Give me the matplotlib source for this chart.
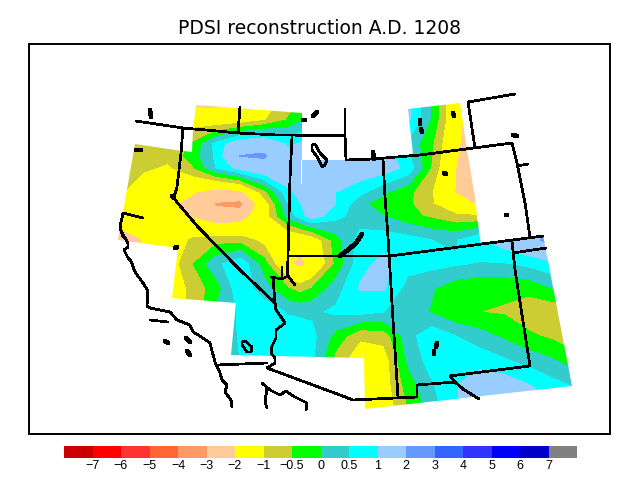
import numpy as np
import matplotlib
matplotlib.use("Agg")
import matplotlib.pyplot as plt
from matplotlib.colors import ListedColormap, BoundaryNorm
from matplotlib.patches import Polygon

title = "PDSI reconstruction A.D. 1208"
levels = [-7, -6, -5, -4, -3, -2, -1, -0.5, 0, 0.5, 1, 2, 3, 4, 5, 6, 7]
level_labels = ["−7", "−6", "−5", "−4", "−3", "−2", "−1", "−0.5", "0", "0.5", "1", "2", "3", "4", "5", "6", "7"]
colors = ["#CC0000", "#FF0000", "#FF3333", "#FF6633", "#FF9966", "#FFCC99", "#FFFF00", "#CCCC33", "#00FF00",
          "#33CCCC", "#00FFFF", "#99CCFF", "#6699FF", "#3366FF", "#3333FF", "#0000FF", "#0000CC", "#808080"]

grid_x = [116, 144, 168, 192, 216, 240, 264, 288, 300, 312, 336, 360, 384, 408, 432, 456, 480, 504, 528, 552, 576]
grid_y = [96, 120, 144, 156, 168, 192, 204, 216, 240, 264, 288, 312, 336, 360, 384, 412]
pdsi = [
    [-0.8, -0.8, -0.8, -2.6, -2.6, -1.6, -1.3, -0.9, -0.6, -0.3, 0.5, 1.2, 1.4, 1.2, 0.0, -1.7, -3, -3, -3, -3, -3],
    [-0.8, -0.8, -0.8, -1.3, -1.5, -1.4, -1.05, -0.45, -0.1, 0.3, 0.8, 1.5, 1.6, 1.1, -0.1, -1.7, -2.8, -3, -3, -3, -3],
    [-0.8, -0.75, -0.75, -0.45, 0.65, 1.5, 1.7, 0.9, 1.05, 1.2, 1.3, 1.3, 1.2, 0.4, -0.45, -1.8, -3, -3, -3, -3, -3],
    [-0.75, -0.8, -0.85, -0.3, 0.6, 2.02, 2.1, 1.3, 1.3, 1.3, 1.35, 1.35, 1.25, 0.6, -0.5, -1.9, -2.95, -3, -3, -3, -3],
    [-0.7, -0.9, -1.1, -0.6, 0.5, 1.2, 1.6, 1.6, 1.5, 1.4, 1.4, 1.4, 1.3, 0.85, -0.6, -2.0, -2.9, -3, -3, -3, -3],
    [-0.8, -1.5, -1.7, -1.9, -2.4, -2.2, -0.7, 0.85, 1.2, 1.5, 1.0, 0.65, 0.1, -0.35, -1, -2.05, -2.9, -3, -3, -3, -3],
    [-1.05, -1.6, -1.8, -2.3, -3.1, -3.3, -1.4, 0.5, 0.95, 1.4, 1.0, 0.15, -0.3, -0.4, -0.95, -1.6, -2.1, -2, -2, -2, -2],
    [-1.6, -1.6, -1.8, -2.1, -2.6, -2.5, -1.35, 0.15, 0.75, 1.3, 0.65, 0.25, 0, -0.35, -0.6, -0.9, -0.95, 1.5, 1.5, 1.5, 1.5],
    [-2.5, -2.0, -1.6, -0.9, -0.7, -0.7, -1.2, -1.8, -1.7, -1.5, -0.25, 0.7, 0.8, 0.7, 0.5, 0.45, 0.95, 1.3, 1.7, 2.3, 2.3],
    [-2, -1.7, -1.4, -0.55, 0.35, 0.9, -0.25, -1.9, -2.2, -1.8, -0.4, 0.85, 1.15, 0.7, 0.65, 0.55, 0.45, 0.45, 0.6, 0.85, 0.9],
    [-2, -1.7, -1.5, -0.85, -0.25, 0.85, 0.2, -0.5, -0.75, -0.5, 0.25, 1.05, 1.05, 0.3, 0.05, -0.3, -0.4, -0.4, -0.35, 0.0, 0.3],
    [-1.5, -1.5, -1.3, -0.9, 0, 0.6, 0.85, 0.45, 0.42, 0.4, 0.6, 0.65, 0.5, 0.25, -0.05, -0.45, -0.5, -0.55, -0.8, -0.9, -0.9],
    [-1.5, -1.5, -1.3, -0.9, 0.1, 0.55, 0.85, 0.85, 0.75, 0.65, -0.2, -0.9, -0.8, 0.3, 0.85, 0.5, 0.2, -0.1, -0.4, -0.6, -0.8],
    [-1.5, -1.5, -1.3, -0.9, 0.3, 0.5, 0.85, 0.8, 0.7, 0.6, -0.7, -1.4, -1.3, 0.1, 0.75, 0.85, 0.8, 0.55, 0.3, 0.05, -0.35],
    [-1.5, -1.5, -1.3, -0.9, 0.3, 0.5, 0.85, 0.8, 0.7, 0.6, -0.7, -1.6, -1.3, -0.25, 0.45, 0.97, 1.3, 1.3, 1.0, 0.65, 0.4],
    [-1.5, -1.5, -1.3, -0.9, 0.3, 0.5, 0.85, 0.8, 0.7, 0.6, -0.7, -1.7, -1.4, -0.55, 0.2, 0.95, 1.4, 1.7, 1.5, 1.3, 1.1],
]

domain = [(135, 144), (182, 151), (192, 152), (193, 130), (196, 105), (302, 113), (302, 160), (375, 160), (413, 154),
          (408, 109), (460, 103), (467, 150), (475, 197), (477, 217), (481, 245), (543, 235), (572, 386), (365, 409),
          (364, 358), (231, 355), (236, 303), (172, 298), (178, 248), (118, 240), (126, 195)]

gap_line = [(301, 160), (301, 183)]

borders = [
    [(136, 121), (183, 128), (217, 131), (238, 133), (277, 135), (345, 135.5)],
    [(240, 107), (238, 133)],
    [(183, 128), (181, 153), (177, 187), (174, 197), (176, 201), (198, 227), (240, 270), (275, 303)],
    [(292, 137), (290, 178), (288, 256), (287.5, 277)],
    [(288, 256), (390, 256), (543, 236)],
    [(345, 109), (345, 135.5), (346, 160), (373, 159), (420, 155), (512, 143), (517, 163), (525, 203), (530, 237)],
    [(468, 102), (475, 148)],
    [(468, 102), (515, 94)],
    [(383, 159), (385, 197), (388, 237), (390, 270), (393, 320), (398, 397)],
    [(512, 241), (515, 270), (530, 366)],
    [(513, 253), (546, 248)],
    [(530, 366), (450, 376), (455, 382), (417, 385), (417, 397), (353, 400), (340, 395), (267, 368)],
    [(455, 382), (463, 389), (479, 399)],
    [(267, 368), (275, 363), (275, 358), (271, 353), (272, 346), (276, 338), (276, 330), (285, 323), (281, 317),
     (276, 310), (275, 303), (273, 278)],
    [(271, 277), (282, 279), (288, 276), (295, 285)],
    [(282, 279), (282, 267)],
    [(217, 365), (267, 363)],
    [(122, 233), (128, 243), (128, 247), (124, 250), (128, 258), (131, 261), (135, 272), (143, 283), (148, 291),
     (147, 306), (150, 308), (170, 312), (177, 320), (190, 325), (193, 332), (200, 336), (210, 343), (215, 362),
     (220, 373), (222, 380), (227, 385), (225, 392), (231, 400), (232, 407)],
    [(123, 213), (120, 227), (123, 237)],
    [(123, 213), (143, 218)],
    [(262, 383), (270, 390), (280, 395), (286, 391), (293, 396), (307, 403), (306, 410)],
    [(267, 388), (265, 402), (267, 408)],
    [(517, 166), (528, 164)],
    [(242, 342), (245, 341), (252, 347), (251, 352), (247, 352), (242, 345), (242, 342)],
    [(312, 145), (315, 144), (320, 153), (327, 160), (325, 165), (322, 167), (318, 158), (312, 150), (312, 145)],
    [(150, 320), (168, 322)],
]
blobs = [
    [(150, 110), (151, 117)], [(136, 150), (141, 150)], [(313, 116), (317, 112)], [(303, 120), (305, 120)],
    [(175, 248), (177, 247)], [(373, 152), (374, 159)], [(453, 113), (454, 116)], [(420, 120), (420, 124)],
    [(421, 129), (422, 132)], [(444, 173), (446, 174)], [(513, 135), (517, 136)], [(506, 215), (507, 215)],
    [(437, 343), (436, 347)], [(434, 351), (434, 354)], [(340, 256), (348, 250), (356, 243), (362, 234)],
    [(172, 196), (174, 198)], [(165, 341), (168, 343)], [(186, 338), (190, 342)], [(187, 351), (190, 355)],
]

fig = plt.figure(figsize=(6.4, 4.8), dpi=100)
plt.rcParams["font.family"] = "Liberation Sans"
ax = fig.add_axes([29 / 640, 1 - 434 / 480, 581 / 640, 390 / 480])
cmap = ListedColormap(colors[1:-1])
cmap.set_under(colors[0])
cmap.set_over(colors[-1])
norm = BoundaryNorm(levels, cmap.N)
cs = ax.contourf(grid_x, grid_y, np.array(pdsi), levels=levels, cmap=cmap, norm=norm, extend="both", antialiased=False)
clip = Polygon(domain, closed=True, transform=ax.transData, facecolor="none", edgecolor="none")
ax.add_patch(clip)
cs.set_clip_path(clip)
gx, gy = zip(*gap_line)
ax.plot(gx, gy, color="white", lw=0.7, antialiased=False)
for line in borders:
    xs, ys = zip(*line)
    ax.plot(xs, ys, color="black", lw=1.25, antialiased=False, solid_capstyle="round")
for blob in blobs:
    xs, ys = zip(*blob)
    ax.plot(xs, ys, color="black", lw=2.6, antialiased=False, solid_capstyle="round")
ax.set_xlim(29, 610)
ax.set_ylim(434, 44)
ax.set_xticks([])
ax.set_yticks([])
for s in ax.spines.values():
    s.set_linewidth(1.4)

cax = fig.add_axes([64 / 640, 1 - 458 / 480, 513 / 640, 12 / 480])
cax.pcolormesh(np.arange(19), [0, 1], np.arange(18).reshape(1, -1), cmap=ListedColormap(colors), vmin=-0.5, vmax=17.5)
cax.set_yticks([])
cax.set_xticks(np.arange(1, 18))
cax.set_xticklabels(level_labels, fontsize=9)
cax.tick_params(axis="x", length=0, pad=1.5)
for s in cax.spines.values():
    s.set_visible(False)

fig.text(320 / 640, 1 - 29 / 480, title, ha="center", va="center", fontsize=13.5, family="DejaVu Sans")
fig.savefig("out.png", dpi=100)
